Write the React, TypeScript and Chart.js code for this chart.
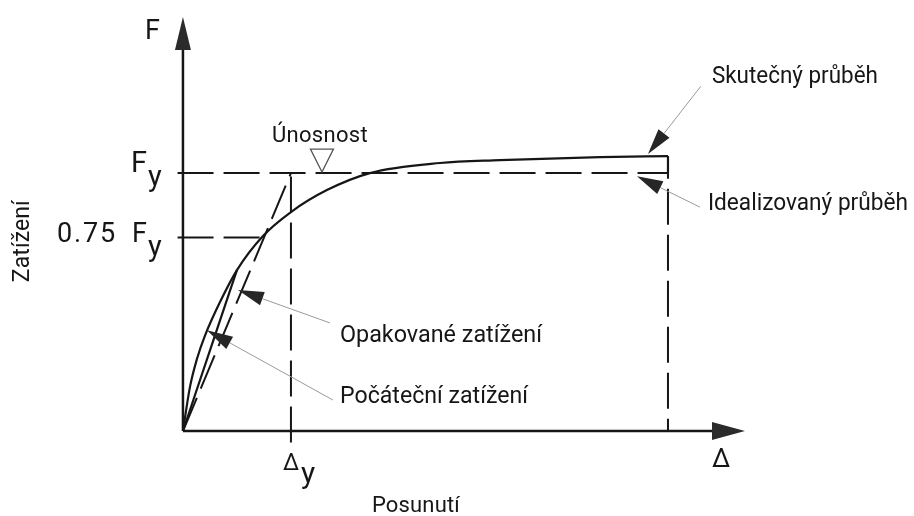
import React, { useEffect, useRef } from "react";
import { Chart, registerables } from "chart.js";

Chart.register(...registerables);

// Force F expressed in units of Fy, displacement Δ in units of Δy.
const initialLoadX = [0, 0.065, 0.13, 0.204, 0.343, 0.5, 0.741, 1.0, 1.333, 1.731, 2.38, 2.935, 3.861, 4.491];
const initialLoadY = [0, 0.171, 0.28, 0.37, 0.5, 0.624, 0.756, 0.849, 0.934, 1.0, 1.039, 1.05, 1.062, 1.066];
const repeatedLoadX = [0, 0.3, 0.5];
const repeatedLoadY = [0, 0.375, 0.624];

const yieldDisp = 1; // Δy
const yieldForce = 1; // Fy
const serviceRatio = 0.75; // 0.75 Fy
const ultimateDisp = 4.491; // end of the test
const capacityMarkX = 1.287; // "Únosnost" marker along Fy

// Axis extents
const axisEndX = 5.204;
const axisEndY = 1.605;
const tickOverhang = 0.05;
const dropBelow = 0.045;

// Visible window of the drawing
const X_MIN = -1.694;
const X_MAX = 6.769;
const Y_MIN = -0.3295;
const Y_MAX = 1.671;

const FONT = '"Roboto", "Liberation Sans", sans-serif';
const INK = "#161616";

type Label = {
  text: string;
  x: number;
  y: number;
  size: number;
  width?: number;
  align?: CanvasTextAlign;
  rotate?: boolean;
};

const labels: Label[] = [
  { text: "F", x: -0.352, y: 1.519, size: 27 },
  { text: "F", x: -0.333, y: 1.004, size: 29, align: "right" },
  { text: "y", x: -0.324, y: 0.95, size: 29 },
  { text: "0.75", x: -1.167, y: 0.733, size: 27, width: 60 },
  { text: "F", x: -0.333, y: 0.733, size: 27, align: "right" },
  { text: "y", x: -0.324, y: 0.678, size: 29 },
  { text: "Únosnost", x: 0.824, y: 1.12, size: 22, width: 96 },
  { text: "Opakované zatížení", x: 1.454, y: 0.345, size: 24, width: 202 },
  { text: "Počáteční zatížení", x: 1.454, y: 0.109, size: 24, width: 188 },
  { text: "Skutečný průběh", x: 4.898, y: 1.349, size: 24, width: 166 },
  { text: "Idealizovaný průběh", x: 4.861, y: 0.857, size: 24, width: 200 },
  { text: "Δ", x: 0.926, y: -0.151, size: 23 },
  { text: "y", x: 1.093, y: -0.202, size: 30 },
  { text: "Δ", x: 4.898, y: -0.14, size: 26 },
  { text: "Posunutí", x: 1.75, y: -0.314, size: 22, width: 88 },
  { text: "Zatížení", x: -1.481, y: 0.736, size: 23, width: 82, rotate: true },
];

type Pointer = { sx: number; sy: number; tx: number; ty: number };

const pointers: Pointer[] = [
  { sx: 4.796, sy: 1.337, tx: 4.306, ty: 1.074 }, // Skutečný průběh
  { sx: 4.787, sy: 0.868, tx: 4.204, ty: 0.988 }, // Idealizovaný průběh
  { sx: 1.361, sy: 0.419, tx: 0.509, ty: 0.547 }, // Opakované zatížení
  { sx: 1.389, sy: 0.12, tx: 0.222, ty: 0.391 }, // Počáteční zatížení
];

const pts = (xs: number[], ys: number[]) => xs.map((x, i) => ({ x, y: ys[i] }));

const diagramPlugin = {
  id: "diagram",
  beforeDatasetsDraw(chart: Chart) {
    const { ctx } = chart;
    const sx = chart.scales.x;
    const sy = chart.scales.y;
    const ox = sx.getPixelForValue(0);
    const oy = sy.getPixelForValue(0);
    const ex = sx.getPixelForValue(axisEndX);
    const ey = sy.getPixelForValue(axisEndY);
    ctx.save();
    ctx.strokeStyle = INK;
    ctx.fillStyle = "#2b2b2b";
    ctx.lineWidth = 2.5;
    ctx.beginPath();
    ctx.moveTo(ox, oy);
    ctx.lineTo(ex - 20, oy);
    ctx.moveTo(ox, oy);
    ctx.lineTo(ox, ey + 20);
    ctx.stroke();
    // arrowheads
    ctx.beginPath();
    ctx.moveTo(ex, oy);
    ctx.lineTo(ex - 33, oy - 9);
    ctx.lineTo(ex - 33, oy + 9);
    ctx.closePath();
    ctx.fill();
    ctx.beginPath();
    ctx.moveTo(ox, ey);
    ctx.lineTo(ox - 8, ey + 33);
    ctx.lineTo(ox + 8, ey + 33);
    ctx.closePath();
    ctx.fill();
    ctx.restore();
  },
  afterDatasetsDraw(chart: Chart) {
    const { ctx } = chart;
    const sx = chart.scales.x;
    const sy = chart.scales.y;
    const px = (v: number) => sx.getPixelForValue(v);
    const py = (v: number) => sy.getPixelForValue(v);
    ctx.save();

    // capacity marker: open inverted triangle touching Fy
    const cx = px(capacityMarkX);
    const cy = py(yieldForce);
    ctx.strokeStyle = "#555";
    ctx.lineWidth = 1.3;
    ctx.beginPath();
    ctx.moveTo(cx, cy - 1);
    ctx.lineTo(cx - 11.5, cy - 24);
    ctx.lineTo(cx + 11.5, cy - 24);
    ctx.closePath();
    ctx.stroke();

    // leader lines with filled heads
    for (const p of pointers) {
      const x0 = px(p.sx);
      const y0 = py(p.sy);
      const x1 = px(p.tx);
      const y1 = py(p.ty);
      const dx = x1 - x0;
      const dy = y1 - y0;
      const len = Math.hypot(dx, dy);
      const ux = dx / len;
      const uy = dy / len;
      const headLen = 26;
      const half = 7;
      const bx = x1 - ux * headLen;
      const by = y1 - uy * headLen;
      ctx.strokeStyle = "#9a9a9a";
      ctx.lineWidth = 1;
      ctx.beginPath();
      ctx.moveTo(x0, y0);
      ctx.lineTo(bx, by);
      ctx.stroke();
      ctx.fillStyle = "#262626";
      ctx.beginPath();
      ctx.moveTo(x1, y1);
      ctx.lineTo(bx - uy * half, by + ux * half);
      ctx.lineTo(bx + uy * half, by - ux * half);
      ctx.closePath();
      ctx.fill();
    }

    // text
    ctx.fillStyle = INK;
    ctx.textBaseline = "alphabetic";
    for (const l of labels) {
      ctx.font = `${l.size}px ${FONT}`;
      (ctx as any).letterSpacing = "0px";
      let scale = 1;
      if (l.width) {
        const w = ctx.measureText(l.text).width;
        const spacing = (l.width - w) / l.text.length;
        if (spacing >= 0) (ctx as any).letterSpacing = `${spacing.toFixed(2)}px`;
        else scale = l.width / w;
      }
      ctx.save();
      ctx.translate(px(l.x), py(l.y));
      if (l.rotate) {
        ctx.rotate(-Math.PI / 2);
        ctx.textAlign = "center";
        ctx.textBaseline = "middle";
      } else {
        ctx.textAlign = l.align ?? "left";
      }
      ctx.scale(scale, 1);
      ctx.fillText(l.text, 0, 0);
      ctx.restore();
    }
    (ctx as any).letterSpacing = "0px";
    ctx.restore();
  },
};

export default function App() {
  const canvasRef = useRef<HTMLCanvasElement | null>(null);

  useEffect(() => {
    if (!canvasRef.current) return;
    const dash = [36, 10];
    const solid = { borderColor: INK, borderWidth: 2.2, pointRadius: 0, showLine: true, fill: false };
    const dashed = { ...solid, borderWidth: 2, borderDash: dash, borderCapStyle: "butt" as const };
    const peak = initialLoadY[initialLoadY.length - 1];

    const chart = new Chart(canvasRef.current, {
      type: "scatter",
      data: {
        datasets: [
          { label: "Počáteční zatížení", data: pts(initialLoadX, initialLoadY), ...solid, cubicInterpolationMode: "monotone" },
          { label: "Opakované zatížení", data: pts(repeatedLoadX, repeatedLoadY), ...solid, cubicInterpolationMode: "monotone" },
          {
            label: "Skutečný průběh – konec",
            data: [
              { x: ultimateDisp, y: peak },
              { x: ultimateDisp, y: yieldForce },
            ],
            ...solid,
          },
          {
            label: "Idealizovaný průběh",
            data: [
              { x: -tickOverhang, y: yieldForce },
              { x: ultimateDisp, y: yieldForce },
              { x: ultimateDisp, y: 0 },
            ],
            ...dashed,
          },
          {
            label: "Pružná větev",
            data: [
              { x: 0, y: 0 },
              { x: yieldDisp, y: yieldForce },
            ],
            ...dashed,
          },
          {
            label: "Δy",
            data: [
              { x: yieldDisp, y: -dropBelow },
              { x: yieldDisp, y: yieldForce },
            ],
            ...dashed,
          },
          {
            label: "0.75 Fy",
            data: [
              { x: -tickOverhang, y: serviceRatio * yieldForce },
              { x: serviceRatio * yieldDisp, y: serviceRatio * yieldForce },
            ],
            ...dashed,
          },
        ],
      },
      options: {
        responsive: false,
        animation: false,
        devicePixelRatio: 1,
        layout: { padding: 0 },
        plugins: { legend: { display: false }, tooltip: { enabled: false } },
        scales: {
          x: { type: "linear", min: X_MIN, max: X_MAX, display: false },
          y: { type: "linear", min: Y_MIN, max: Y_MAX, display: false },
        },
      },
      plugins: [diagramPlugin],
    });
    return () => chart.destroy();
  }, []);

  return (
    <div style={{ position: "fixed", left: 0, top: 0, width: 914, height: 516, background: "#fff" }}>
      <canvas ref={canvasRef} width={914} height={516} style={{ display: "block" }} />
    </div>
  );
}
